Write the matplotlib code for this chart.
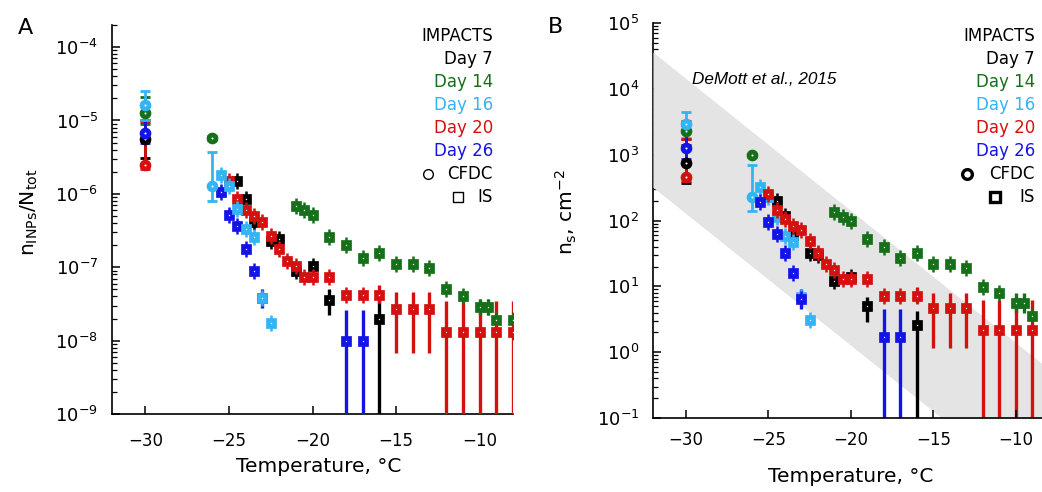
import numpy as np
import matplotlib
matplotlib.use('Agg')
import matplotlib.pyplot as plt
from matplotlib.lines import Line2D
from matplotlib.ticker import LogLocator, NullFormatter, FixedLocator

plt.rcParams['font.family'] = 'DejaVu Sans'
plt.rcParams['mathtext.fontset'] = 'dejavusans'

days = ['Day 7', 'Day 14', 'Day 16', 'Day 20', 'Day 26']
colors = ['#000000', '#16701a', '#33b4f4', '#d41010', '#1414e6']

# ---- Day 7 ----
T7_cfdc = [-30]
a7_cfdc, a7_cfdc_lo, a7_cfdc_hi = [5.6e-6], [3.1e-6], [1.0e-5]
b7_cfdc, b7_cfdc_lo, b7_cfdc_hi = [760], [370], [1400]
T7_is = [-24.5, -24, -23.5, -22.5, -22, -21, -20, -19, -16]
a7_is = [1.5e-6, 8.5e-7, 4.1e-7, 2.3e-7, 2.4e-7, 9.0e-8, 1.04e-7, 3.6e-8, 1.95e-8]
b7_is = [200, 117, 60, 32, 30, 12, 14, 5.0, 2.6]
T7_err = [-19, -16]
a7_lo, a7_hi = [2.2e-8, 1e-10], [5.0e-8, 3.6e-8]
b7_lo, b7_hi = [2.9, 0.01], [7.0, 4.2]

# ---- Day 14 ----
T14_cfdc = [-30, -26]
a14_cfdc, a14_cfdc_lo, a14_cfdc_hi = [1.26e-5, 5.8e-6], [9e-6, 5.4e-6], [2.1e-5, 6.2e-6]
b14_cfdc, b14_cfdc_lo, b14_cfdc_hi = [2300, 980], [1700, 920], [3300, 1040]
T14_is = [-21, -20.5, -20, -19, -18, -17, -16, -15, -14, -13, -12, -11, -10, -9.5, -9, -8]
a14_is = [6.8e-7, 6.0e-7, 5.1e-7, 2.6e-7, 2.0e-7, 1.35e-7, 1.58e-7, 1.1e-7, 1.1e-7, 9.7e-8,
          5.0e-8, 4.0e-8, 2.9e-8, 2.9e-8, 1.9e-8, 1.9e-8]
b14_is = [135, 114, 100, 52, 40, 27, 32, 22, 22, 19, 9.8, 7.8, 5.5, 5.5, 3.6, 3.6]
T14_err = [-10, -9.5]
a14_lo, a14_hi = [2.2e-8, 2.2e-8], [3.7e-8, 3.7e-8]
b14_lo, b14_hi = [4.0, 4.0], [8.0, 8.0]

# ---- Day 16 ----
T16_cfdc = [-30, -26]
a16_cfdc, a16_cfdc_lo, a16_cfdc_hi = [1.6e-5, 1.26e-6], [1.0e-5, 8.0e-7], [2.5e-5, 3.7e-6]
b16_cfdc, b16_cfdc_lo, b16_cfdc_hi = [2900, 225], [1800, 141], [4400, 690]
T16_is = [-25.5, -25, -24.5, -24, -23.5, -23, -22.5]
a16_is = [1.8e-6, 1.26e-6, 6.3e-7, 3.3e-7, 2.6e-7, 3.8e-8, 1.75e-8]
b16_is = [325, 225, 113, 58, 47, 6.8, 3.1]
T16_err = []
a16_lo, a16_hi = [], []
b16_lo, b16_hi = [], []

# ---- Day 20 ----
T20_cfdc = [-30]
a20_cfdc, a20_cfdc_lo, a20_cfdc_hi = [2.45e-6], [2.2e-6], [9.6e-6]
b20_cfdc, b20_cfdc_lo, b20_cfdc_hi = [450], [400], [1700]
T20_is = [-25, -24.5, -24, -23.5, -23, -22.5, -22, -21.5, -21, -20.5, -20, -19,
          -18, -17, -16, -15, -14, -13, -12, -11, -10, -9, -8]
a20_is = [1.5e-6, 8.5e-7, 6.0e-7, 5.0e-7, 4.2e-7, 2.7e-7, 1.8e-7, 1.23e-7, 1.04e-7, 7.3e-8, 7.3e-8, 7.3e-8,
          4.2e-8, 4.2e-8, 4.2e-8, 2.7e-8, 2.7e-8, 2.7e-8, 1.32e-8, 1.32e-8, 1.32e-8, 1.32e-8, 1.32e-8]
b20_is = [250, 145, 105, 83, 72, 48, 32, 22, 18, 12.9, 12.9, 12.9,
          7.2, 7.2, 7.2, 4.7, 4.7, 4.7, 2.2, 2.2, 2.2, 2.2, 2.2]
T20_err = [-16, -15, -14, -13, -12, -11, -10, -9, -8]
a20_lo = [3.3e-8, 6.8e-9, 6.8e-9, 6.8e-9, 1e-10, 1e-10, 1e-10, 1e-10, 1e-10]
a20_hi = [5.7e-8, 4.6e-8, 4.6e-8, 4.6e-8, 3.5e-8, 3.5e-8, 3.5e-8, 3.5e-8, 3.5e-8]
b20_lo = [5.5, 1.15, 1.15, 1.15, 0.01, 0.01, 0.01, 0.01, 0.01]
b20_hi = [9.8, 8.0, 8.0, 8.0, 6.2, 6.2, 6.2, 6.2, 6.2]

# ---- Day 26 ----
T26_cfdc = [-30]
a26_cfdc, a26_cfdc_lo, a26_cfdc_hi = [6.8e-6], [5.0e-6], [1.3e-5]
b26_cfdc, b26_cfdc_lo, b26_cfdc_hi = [1260], [850], [2300]
T26_is = [-25.5, -25, -24.5, -24, -23.5, -23, -18, -17]
a26_is = [1.07e-6, 5.2e-7, 3.6e-7, 1.78e-7, 9.0e-8, 3.8e-8, 1.0e-8, 1.0e-8]
b26_is = [190, 96, 63, 31.6, 15.8, 6.5, 1.7, 1.7]
T26_err = [-23, -18, -17]
a26_lo, a26_hi = [2.8e-8, 1e-10, 1e-10], [5.0e-8, 2.6e-8, 2.6e-8]
b26_lo, b26_hi = [4.5, 0.01, 0.01], [9.0, 4.5, 4.5]

# DeMott et al. (2015) range, panel B
band_T = [-32, -8]
band_hi = [3.6e4, 0.55]
band_lo = [320, 0.005]

series_A = [
    (T7_cfdc, a7_cfdc, a7_cfdc_lo, a7_cfdc_hi, T7_is, a7_is, T7_err, a7_lo, a7_hi),
    (T14_cfdc, a14_cfdc, a14_cfdc_lo, a14_cfdc_hi, T14_is, a14_is, T14_err, a14_lo, a14_hi),
    (T16_cfdc, a16_cfdc, a16_cfdc_lo, a16_cfdc_hi, T16_is, a16_is, T16_err, a16_lo, a16_hi),
    (T20_cfdc, a20_cfdc, a20_cfdc_lo, a20_cfdc_hi, T20_is, a20_is, T20_err, a20_lo, a20_hi),
    (T26_cfdc, a26_cfdc, a26_cfdc_lo, a26_cfdc_hi, T26_is, a26_is, T26_err, a26_lo, a26_hi),
]
series_B = [
    (T7_cfdc, b7_cfdc, b7_cfdc_lo, b7_cfdc_hi, T7_is, b7_is, T7_err, b7_lo, b7_hi),
    (T14_cfdc, b14_cfdc, b14_cfdc_lo, b14_cfdc_hi, T14_is, b14_is, T14_err, b14_lo, b14_hi),
    (T16_cfdc, b16_cfdc, b16_cfdc_lo, b16_cfdc_hi, T16_is, b16_is, T16_err, b16_lo, b16_hi),
    (T20_cfdc, b20_cfdc, b20_cfdc_lo, b20_cfdc_hi, T20_is, b20_is, T20_err, b20_lo, b20_hi),
    (T26_cfdc, b26_cfdc, b26_cfdc_lo, b26_cfdc_hi, T26_is, b26_is, T26_err, b26_lo, b26_hi),
]


def draw(ax, series, order):
    for n, k in enumerate(order):
        c = colors[k]
        Tc, vc, lc, hc, Ti, vi, Te, le, he = series[k]
        vc = np.array(vc)
        ax.errorbar(Tc, vc, yerr=[vc - np.array(lc), np.array(hc) - vc], fmt='none',
                    ecolor=c, elinewidth=2.0, capsize=3.5, capthick=2.0, zorder=3)
        if Te:
            ax.vlines(Te, le, he, color=c, lw=2.4, zorder=3)
        z = 4 + n
        ax.plot(Ti, vi, ls='none', marker='|', ms=12, mew=1.8, color=c, zorder=z)
        ax.plot(Ti, vi, ls='none', marker='s', ms=4.6, mew=3.4, mec=c, mfc='white', zorder=z)
        ax.plot(Tc, vc, ls='none', marker='o', ms=5.0, mew=3.4, mec=c, mfc='white', zorder=z)


def style(ax, decades, xpad):
    ax.set_xlim(-32, -8)
    ax.set_yscale('log')
    ax.spines['top'].set_visible(False)
    ax.spines['right'].set_visible(False)
    for s in ('left', 'bottom'):
        ax.spines[s].set_linewidth(1.2)
    ax.xaxis.set_major_locator(FixedLocator([-30, -25, -20, -15, -10]))
    ax.yaxis.set_major_locator(FixedLocator([10.0 ** k for k in decades]))
    ax.yaxis.set_minor_locator(LogLocator(base=10, subs=np.arange(2, 10), numticks=20))
    ax.yaxis.set_minor_formatter(NullFormatter())
    ax.tick_params(which='both', direction='in', top=False, right=False)
    ax.tick_params(which='major', length=6, width=1.1)
    ax.tick_params(which='minor', length=3.5, width=0.9)
    ax.tick_params(axis='y', labelsize=13, pad=10)
    ax.tick_params(axis='x', labelsize=12, pad=xpad)


fig = plt.figure(figsize=(10.42, 4.92), dpi=100)
axA = fig.add_axes([112 / 1042, 78 / 492, 401 / 1042, 389 / 492])
axB = fig.add_axes([653 / 1042, 74 / 492, 396 / 1042, 395 / 492])

style(axA, range(-9, -3), 13)
style(axB, range(-1, 6), 9.5)

draw(axA, series_A, [0, 1, 3, 4, 2])
draw(axB, series_B, [0, 1, 2, 3, 4])

axA.set_ylim(1e-9, 2e-4)
axB.set_ylim(0.1, 1e5)

axB.fill_between(band_T, band_lo, band_hi, color='#e4e4e4', lw=0, zorder=2.6)
axB.spines['bottom'].set_zorder(3)
axB.xaxis.set_zorder(3)
axB.text(0.098, 0.856, 'DeMott et al., 2015', style='italic', fontsize=12.3,
         family='Liberation Sans', transform=axB.transAxes, va='center', zorder=5)

# panel letters, axis labels
fig.text(25 / 1042, 1 - 28 / 492, 'A', fontsize=16, ha='center', va='center')
fig.text(555 / 1042, 1 - 27 / 492, 'B', fontsize=16, ha='center', va='center')
fig.text(29 / 1042, 1 - 212 / 492, r'$\mathrm{n_{INPs}/N_{tot}}$', rotation=90,
         ha='center', va='center', fontsize=14.5)
fig.text(566 / 1042, 1 - 212 / 492, r'$\mathrm{n_s}$, cm$^{-2}$', rotation=90,
         ha='center', va='center', fontsize=14.5)
fig.text(319 / 1042, 1 - 467 / 492, 'Temperature, °C', fontsize=14.5, ha='center', va='center')
fig.text(851 / 1042, 1 - 477 / 492, 'Temperature, °C', fontsize=14.5, ha='center', va='center')

# legends
leg_y = [36, 59, 82, 105, 128, 151, 174, 197]
for xr, xo, xs, thick in [(493, 428, 458, False), (1035, 967, 995, True)]:
    labels = ['IMPACTS'] + days + ['CFDC', 'IS']
    cols = ['black'] + colors + ['black', 'black']
    for lab, c, y in zip(labels, cols, leg_y):
        fig.text(xr / 1042, 1 - y / 492, lab, color=c, fontsize=12, ha='right', va='center')
    mew = 2.4 if thick else 1.0
    for mk, x, y in [('o', xo, leg_y[6]), ('s', xs, leg_y[7])]:
        fig.add_artist(Line2D([x / 1042], [1 - y / 492], marker=mk, ms=7, mew=mew,
                              mec='black', mfc='white', ls='none', transform=fig.transFigure))

fig.savefig('out.png', dpi=100)
